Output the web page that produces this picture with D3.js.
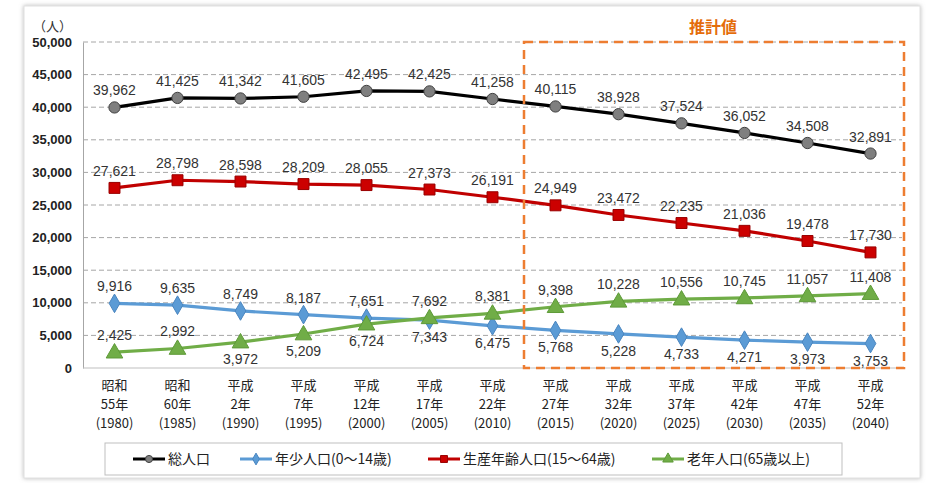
<!DOCTYPE html>
<html>
<head>
<meta charset="utf-8">
<script src="https://cdn.jsdelivr.net/npm/d3@7"></script>
<style>
  body { margin: 0; background: #fff; }
  svg { display: block; font-family: "Liberation Sans", "Noto Sans CJK JP", sans-serif; }
</style>
</head>
<body>
<svg id="chart" width="935" height="483"></svg>
<script>
// categories
var eras = ["昭和", "昭和", "平成", "平成", "平成", "平成", "平成", "平成", "平成", "平成", "平成", "平成", "平成"];
var eraYears = ["55年", "60年", "2年", "7年", "12年", "17年", "22年", "27年", "32年", "37年", "42年", "47年", "52年"];
var years = ["1980", "1985", "1990", "1995", "2000", "2005", "2010", "2015", "2020", "2025", "2030", "2035", "2040"];

// series values (人)
var total   = [39962, 41425, 41342, 41605, 42495, 42425, 41258, 40115, 38928, 37524, 36052, 34508, 32891];
var young   = [9916, 9635, 8749, 8187, 7651, 7343, 6475, 5768, 5228, 4733, 4271, 3973, 3753];
var working = [27621, 28798, 28598, 28209, 28055, 27373, 26191, 24949, 23472, 22235, 21036, 19478, 17730];
var elderly = [2425, 2992, 3972, 5209, 6724, 7692, 8381, 9398, 10228, 10556, 10745, 11057, 11408];

var yTicks = [0, 5000, 10000, 15000, 20000, 25000, 30000, 35000, 40000, 45000, 50000];
var forecastStart = "2015";

// "other"/"gap": label goes below the point when the other series sits above it within that gap
var series = [
  {name: "総人口", values: total, line: "#000000", fill: "#7f7f7f", stroke: "#404040", shape: d3.symbolCircle, size: 100},
  {name: "年少人口(0～14歳)", values: young, line: "#5b9bd5", fill: "#5b9bd5", stroke: "#4a86c0", shape: d3.symbolDiamond, size: 100, other: elderly, gap: Infinity},
  {name: "生産年齢人口(15～64歳)", values: working, line: "#c00000", fill: "#cc0000", stroke: "#990000", shape: d3.symbolSquare, size: 120},
  {name: "老年人口(65歳以上)", values: elderly, line: "#70ad47", fill: "#70ad47", stroke: "#5e9a38", shape: d3.symbolTriangle, size: 120, other: young, gap: 6000}
];

var svg = d3.select("#chart");
var plotLeft = 83, plotRight = 902, plotTop = 42, plotBottom = 368;

// card frame
var defs = svg.append("defs");
var f = defs.append("filter").attr("id", "sh").attr("x", "-5%").attr("y", "-5%").attr("width", "110%").attr("height", "110%");
f.append("feDropShadow").attr("dx", 0).attr("dy", 0).attr("stdDeviation", 2).attr("flood-color", "#888").attr("flood-opacity", 0.6);
svg.append("rect").attr("x", 24).attr("y", 6).attr("width", 896).attr("height", 472)
  .attr("fill", "#fff").attr("stroke", "#e0e0e0").attr("filter", "url(#sh)");

var x = d3.scalePoint().domain(years).range([plotLeft, plotRight]).padding(0.5);
var y = d3.scaleLinear().domain([0, 50000]).range([plotBottom, plotTop]);
var fmt = d3.format(",");

// gridlines
svg.append("g").selectAll("line").data(yTicks.filter(function(d){ return d > 0; }))
  .enter().append("line")
  .attr("x1", plotLeft).attr("x2", plotRight)
  .attr("y1", function(d){ return y(d); }).attr("y2", function(d){ return y(d); })
  .attr("stroke", "#a6a6a6").attr("stroke-width", 1).attr("stroke-dasharray", "5,3");

// y axis
var yAxis = svg.append("g").attr("transform", "translate(" + plotLeft + ",0)")
  .call(d3.axisLeft(y).tickValues(yTicks).tickFormat(fmt).tickSize(0).tickPadding(11));
yAxis.select(".domain").attr("stroke", "#a6a6a6");
yAxis.selectAll("text").attr("font-size", 13).attr("font-weight", "bold").attr("fill", "#222");

svg.append("line").attr("x1", plotLeft).attr("x2", plotRight).attr("y1", plotBottom).attr("y2", plotBottom)
  .attr("stroke", "#bfbfbf");

svg.append("text").attr("x", 33).attr("y", 31).attr("font-size", 13).attr("fill", "#333")
  .attr("font-family", "Noto Sans CJK JP").text("（人）");

// x axis labels
var xl = svg.append("g").selectAll("text").data(years).enter().append("text")
  .attr("text-anchor", "middle").attr("font-size", 13).attr("fill", "#222")
  .attr("font-family", "Noto Sans CJK JP")
  .attr("transform", function(d){ return "translate(" + x(d) + ",0)"; });
xl.append("tspan").attr("x", 0).attr("y", 390).text(function(d, i){ return eras[i]; });
xl.append("tspan").attr("x", 0).attr("y", 409).text(function(d, i){ return eraYears[i]; });
xl.append("tspan").attr("x", 0).attr("y", 428).text(function(d){ return "(" + d + ")"; });

// lines & markers
var line = d3.line().x(function(d, i){ return x(years[i]); }).y(function(d){ return y(d); });
series.forEach(function(s){
  svg.append("path").datum(s.values).attr("d", line)
    .attr("fill", "none").attr("stroke", s.line).attr("stroke-width", 3.2);
  svg.append("g").selectAll("path").data(s.values).enter().append("path")
    .attr("d", d3.symbol().type(s.shape).size(s.size))
    .attr("transform", function(d, i){
      var dy = s.shape === d3.symbolTriangle ? 1 : 0;
      return "translate(" + x(years[i]) + "," + (y(d) + dy) + ")";
    })
    .attr("fill", s.fill).attr("stroke", s.stroke).attr("stroke-width", 1);
});

// data labels
series.forEach(function(s){
  svg.append("g").selectAll("text").data(s.values).enter().append("text")
    .attr("x", function(d, i){ return x(years[i]); })
    .attr("y", function(d, i){
      var below = s.other && s.other[i] > d && s.other[i] - d < s.gap;
      return below ? y(d) + 22 : y(d) - 12;
    })
    .attr("text-anchor", "middle").attr("font-size", 14).attr("fill", "#333")
    .text(fmt);
});

// forecast box
var bx = x(forecastStart) - x.step() / 2;
svg.append("rect").attr("x", bx).attr("y", plotTop).attr("width", plotRight + 2 - bx).attr("height", plotBottom - plotTop)
  .attr("fill", "none").attr("stroke", "#ed7d31").attr("stroke-width", 2.5).attr("stroke-dasharray", "9,6");
svg.append("text").attr("x", (bx + plotRight) / 2).attr("y", 33).attr("text-anchor", "middle")
  .attr("font-size", 16).attr("font-weight", "bold").attr("fill", "#e46c0a")
  .attr("font-family", "Noto Sans CJK JP").text("推計値");

// legend
var lg = svg.append("g");
lg.append("rect").attr("x", 105).attr("y", 443).attr("width", 737).attr("height", 32)
  .attr("fill", "#fff").attr("stroke", "#bfbfbf");
var lx = [133, 240, 428, 652];
series.forEach(function(s, i){
  var g = lg.append("g").attr("transform", "translate(" + lx[i] + ",459)");
  g.append("line").attr("x1", 0).attr("x2", 32).attr("stroke", s.line).attr("stroke-width", 3);
  g.append("path").attr("d", d3.symbol().type(s.shape).size(s.size * 0.4))
    .attr("transform", "translate(16,0)").attr("fill", s.fill).attr("stroke", s.stroke);
  g.append("text").attr("x", 35).attr("y", 5).attr("font-size", 14).attr("fill", "#222")
    .attr("font-family", "Noto Sans CJK JP").text(s.name);
});
</script>
</body>
</html>
